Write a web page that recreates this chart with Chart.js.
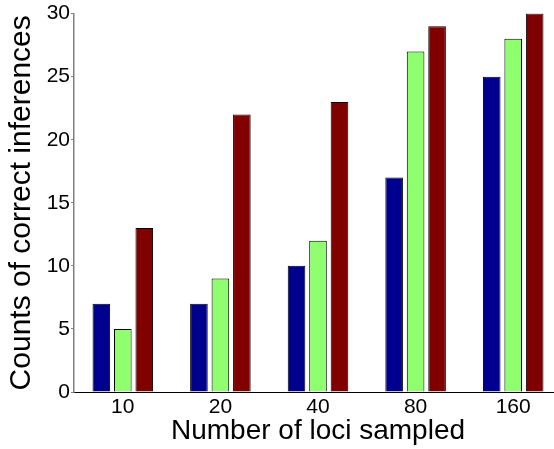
<!DOCTYPE html>
<html>
<head>
<meta charset="utf-8">
<script src="https://cdn.jsdelivr.net/npm/chart.js@4"></script>
<style>
html,body{margin:0;padding:0;background:#fff;overflow:hidden;}
#wrap{width:554px;height:449px;overflow:hidden;position:relative;}
canvas{display:block;}
</style>
</head>
<body>
<div id="wrap"><canvas id="c" width="562" height="449"></canvas></div>
<script>
const categories = ["10", "20", "40", "80", "160"];
const seriesA = [7, 7, 10, 17, 25];
const seriesB = [5, 9, 12, 27, 28];
const seriesC = [13, 22, 23, 29, 30];
const yTicks = [0, 5, 10, 15, 20, 25, 30];

const FONT = "'Liberation Sans', Arial, sans-serif";

new Chart(document.getElementById('c'), {
  type: 'bar',
  data: {
    labels: categories,
    datasets: [
      {data: seriesA, backgroundColor: '#00008F', borderColor: '#000', borderWidth: 1},
      {data: seriesB, backgroundColor: '#8FFF70', borderColor: '#000', borderWidth: 1},
      {data: seriesC, backgroundColor: '#800000', borderColor: '#000', borderWidth: 1}
    ]
  },
  options: {
    responsive: false,
    animation: false,
    devicePixelRatio: 1,
    categoryPercentage: 0.66,
    barPercentage: 0.82,
    layout: {padding: {top: 13, left: 0, right: 0, bottom: 0}},
    plugins: {legend: {display: false}, tooltip: {enabled: false}},
    scales: {
      x: {
        grid: {display: false, drawTicks: false},
        border: {display: true, color: '#000', width: 1},
        ticks: {color: '#000', font: {family: FONT, size: 21}, padding: 3, maxRotation: 0},
        title: {display: true, text: 'Number of loci sampled', color: '#000',
                font: {family: FONT, size: 28}, padding: {top: 0, bottom: 1}},
        afterFit: s => { s.height = 57; }
      },
      y: {
        min: 0, max: 30,
        afterBuildTicks: s => { s.ticks = yTicks.map(v => ({value: v})); },
        grid: {display: true, drawOnChartArea: false, drawTicks: true, tickLength: 3, color: '#808080'},
        border: {display: true, color: '#808080', width: 1.5},
        ticks: {color: '#000', font: {family: FONT, size: 21}, padding: 1},
        title: {display: true, text: 'Counts of correct inferences', color: '#000',
                font: {family: FONT, size: 30}, padding: {top: 4, bottom: 0}},
        afterFit: s => { s.width = 74; }
      }
    }
  }
});
</script>
</body>
</html>
